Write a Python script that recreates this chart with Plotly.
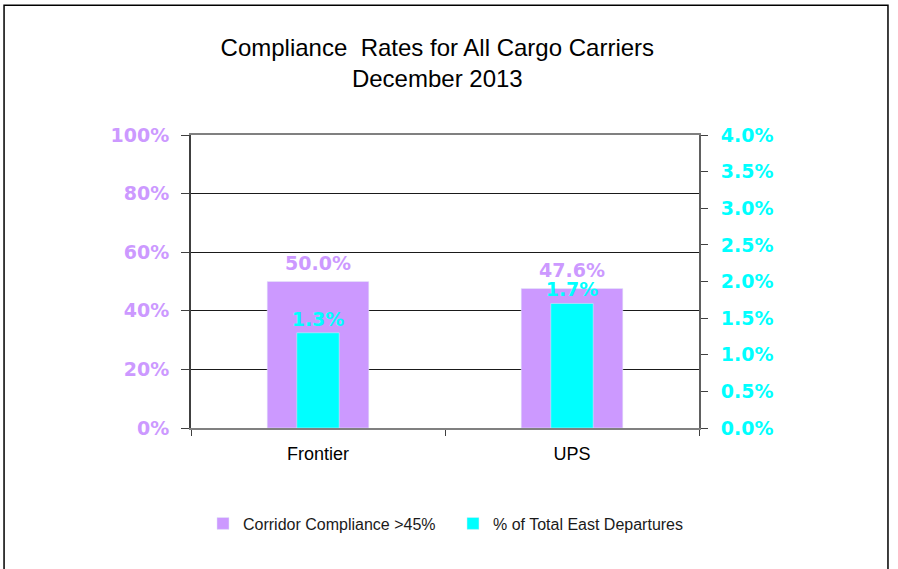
import plotly.graph_objects as go

carriers = ["Frontier", "UPS"]
corridor_compliance = [0.500, 0.476]
east_departures_share = [0.013, 0.017]

purple = "#CC99FF"
cyan = "#00FFFF"
label_font = "DejaVu Sans, Verdana, sans-serif"
text_font = "Liberation Sans, Arial, sans-serif"

fig = go.Figure()
fig.add_trace(go.Bar(
    x=carriers,
    y=corridor_compliance,
    name="Corridor Compliance >45%",
    marker_color=purple,
    width=0.40,
))
fig.add_trace(go.Bar(
    x=carriers,
    y=east_departures_share,
    name="% of Total East Departures",
    marker_color=cyan,
    width=0.167,
    yaxis="y2",
    texttemplate="%{y:.1%}",
    textposition="outside",
    constraintext="none",
    textfont=dict(family=label_font, size=19, color=cyan, weight="bold"),
    cliponaxis=False,
))

# purple value labels sit a little higher above their bars than plotly's default
for carrier, value in zip(carriers, corridor_compliance):
    fig.add_annotation(
        x=carrier, y=value, xref="x", yref="y",
        text=f"{value:.1%}", showarrow=False,
        yanchor="bottom", yshift=6,
        font=dict(family=label_font, size=19, color=purple, weight="bold"),
    )

# outer chart frame
fig.add_shape(
    type="rect", xref="paper", yref="paper",
    x0=-0.368, x1=1.372, y0=-0.49, y1=1.443,
    line=dict(color="#000000", width=1.5),
    layer="below",
)

fig.update_layout(
    width=898,
    height=569,
    margin=dict(l=191, r=199, t=135, b=141),
    paper_bgcolor="white",
    plot_bgcolor="white",
    barmode="overlay",
    font=dict(family=text_font, color="#000000"),
    title=dict(
        text="Compliance  Rates for All Cargo Carriers<br>December 2013",
        x=0.487, xref="container", xanchor="center",
        y=1 - 55.5 / 569, yref="container", yanchor="middle",
        font=dict(family=text_font, size=24, color="#000000"),
    ),
    legend=dict(
        orientation="h",
        x=0.0236, xanchor="left",
        y=-0.326, yanchor="middle",
        font=dict(family=text_font, size=16, color="#1a1a1a"),
        itemwidth=30,
        entrywidth=205,
        traceorder="normal",
    ),
    xaxis=dict(
        showline=True, mirror=True, linecolor="#808080", linewidth=2,
        ticks="outside", tickson="boundaries", ticklen=6, tickcolor="#404040",
        tickfont=dict(family=text_font, size=18, color="#000000"),
        ticklabelstandoff=8,
        showgrid=False, automargin=False,
    ),
    yaxis=dict(
        range=[0, 1], dtick=0.2, tickformat=".0%",
        showline=True, linecolor="#404040", linewidth=2,
        ticks="outside", ticklen=8, tickcolor="#404040",
        tickfont=dict(family=label_font, size=19, color=purple, weight="bold"),
        ticklabelstandoff=8,
        showgrid=True, gridcolor="#1a1a1a", gridwidth=1,
        zeroline=False, automargin=False,
    ),
    yaxis2=dict(
        range=[0, 0.04], dtick=0.005, tickformat=".1%",
        overlaying="y", side="right",
        showline=True, linecolor="#606060", linewidth=2,
        ticks="outside", ticklen=7, tickcolor="#404040",
        tickfont=dict(family=label_font, size=19, color=cyan, weight="bold"),
        ticklabelstandoff=9,
        showgrid=False, zeroline=False, automargin=False,
    ),
    yaxis3=dict(
        range=[0, 0.04], dtick=0.005,
        overlaying="y", side="right", anchor="x",
        ticks="inside", ticklen=7, tickcolor="#404040",
        showticklabels=False, showgrid=False, zeroline=False, showline=False,
    ),
)

# the page body has a default 8px margin; drop it so the figure sits at the corner
fig.write_html(
    "out.html",
    config={"displayModeBar": False},
    post_script="document.body.style.margin = '0';",
)
